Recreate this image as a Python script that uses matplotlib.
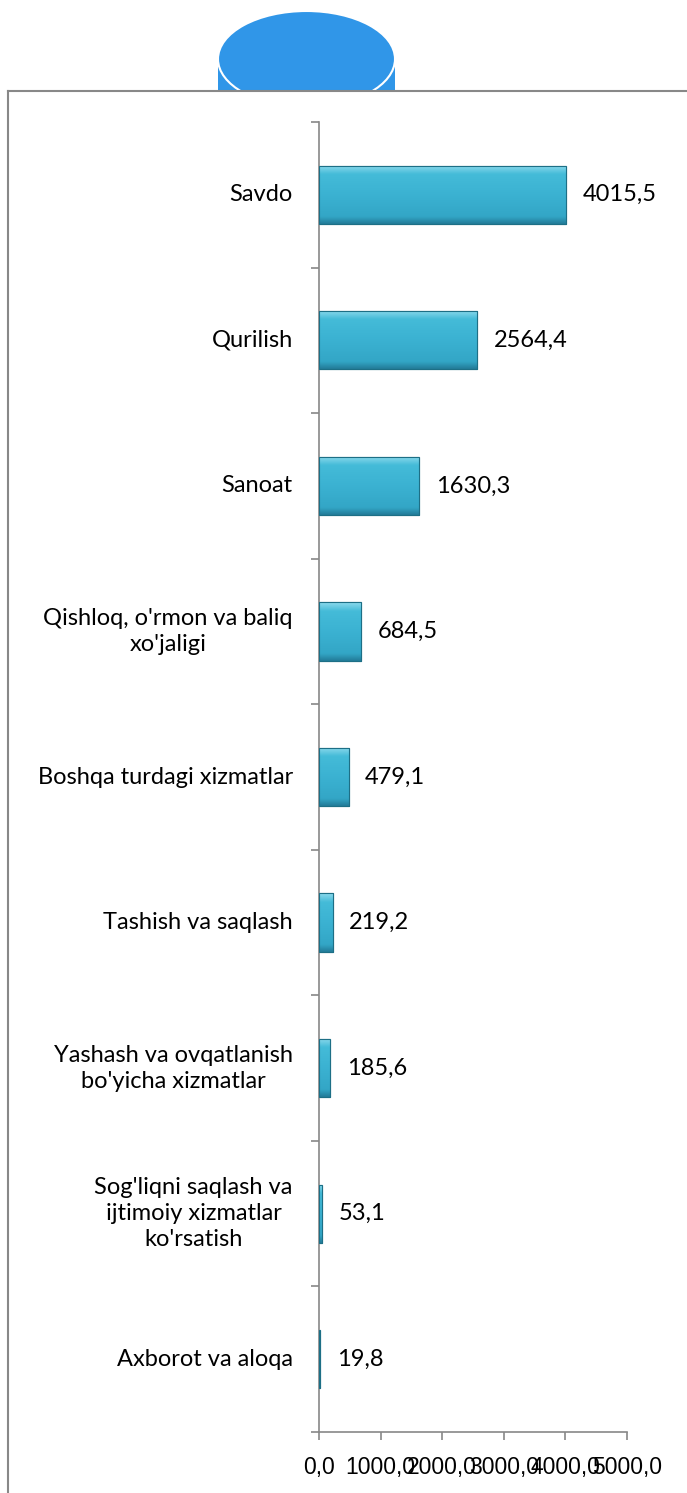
import numpy as np
import matplotlib
matplotlib.use("Agg")
import matplotlib.pyplot as plt
from matplotlib.patches import Ellipse, Rectangle
from matplotlib.lines import Line2D
from matplotlib.colors import LinearSegmentedColormap

categories = ["Savdo", "Qurilish", "Sanoat",
              "Qishloq, o'rmon va baliq\nxo'jaligi",
              "Boshqa turdagi xizmatlar",
              "Tashish va saqlash",
              "Yashash va ovqatlanish\nbo'yicha xizmatlar",
              "Sog'liqni saqlash va\nijtimoiy xizmatlar\nko'rsatish",
              "Axborot va aloqa"]
values = [4015.5, 2564.4, 1630.3, 684.5, 479.1, 219.2, 185.6, 53.1, 19.8]
xticks = [0, 1000, 2000, 3000, 4000, 5000]

plt.rcParams['font.family'] = ['Lato', 'DejaVu Sans']

fig = plt.figure(figsize=(6.87, 14.93), dpi=100)
W, H = 687, 1493

# blue cylinder on top, cut by the frame line
fig.add_artist(Rectangle((218 / W, 1 - 91 / H), 177 / W, 32 / H, color='#3096e8', lw=0))
fig.add_artist(Ellipse((306.5 / W, 1 - 59 / H), 177 / W, 96 / H,
                       facecolor='#3096e8', edgecolor='white', lw=1.5))
fig.add_artist(Rectangle((200 / W, 1 - 115 / H), 215 / W, 24 / H, color='white', lw=0, zorder=1.5))
# frame lines
fig.add_artist(Line2D([8 / W, 1], [1 - 91 / H, 1 - 91 / H], color='#888888', lw=1.5))
fig.add_artist(Line2D([8 / W, 8 / W], [0, 1 - 91 / H], color='#888888', lw=1.5))

ax = fig.add_axes([319 / W, 1 - 1432 / H, 308 / W, 1310 / H])
n = len(categories)
ypos = np.arange(n)[::-1]

bars = ax.barh(ypos, values, height=0.4, color='#3AB0D0', edgecolor='#1d6f86', lw=0.8, zorder=2)

# bevel look: gradient clipped to each bar
grad = np.linspace(0, 1, 64).reshape(-1, 1)
cmap = LinearSegmentedColormap.from_list(
    'bev', [(0, '#237d9a'), (0.12, '#33a6c6'), (0.5, '#3bb2d2'), (0.85, '#44bbd8'), (1, '#8ad9ec')])
for b in bars:
    x0, y0 = b.get_x(), b.get_y()
    w, h = b.get_width(), b.get_height()
    im = ax.imshow(grad, extent=[x0, x0 + w, y0, y0 + h], aspect='auto', cmap=cmap,
                   origin='lower', zorder=2.5)
    im.set_clip_path(b)
    ax.add_patch(Rectangle((x0, y0), w, h, fill=False, edgecolor='#1d6f86', lw=0.8, zorder=3))

for y, v in zip(ypos, values):
    ax.text(v + 270, y, f"{v:.1f}".replace('.', ','), va='center', ha='left', fontsize=17)

ax.set_xlim(0, 5000)
ax.set_ylim(-0.5, n - 0.5)
ax.set_xticks(xticks)
ax.set_xticklabels([f"{t:.1f}".replace('.', ',') for t in xticks],
                   fontsize=16.5, family='Liberation Sans')
ax.set_yticks(np.arange(n + 1) - 0.5)
ax.set_yticklabels([])
for y, c in zip(ypos, categories):
    ax.text(-0.085, y, c, transform=ax.get_yaxis_transform(), ha='right', va='center',
            multialignment='center', fontsize=17, linespacing=1.3)

for s in ['top', 'right']:
    ax.spines[s].set_visible(False)
for s in ['left', 'bottom']:
    ax.spines[s].set_color('#888888')
    ax.spines[s].set_linewidth(1.2)
ax.tick_params(axis='both', colors='#888888', labelcolor='black', length=6, width=1.2)
ax.tick_params(axis='x', pad=11)

fig.savefig('out.png', dpi=100)
